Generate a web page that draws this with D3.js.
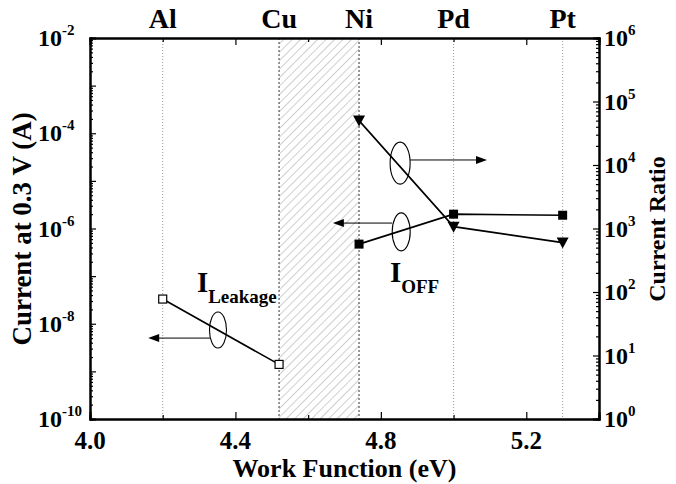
<!DOCTYPE html>
<html>
<head>
<meta charset="utf-8">
<script src="https://cdn.jsdelivr.net/npm/d3@7/dist/d3.min.js"></script>
<style>
body{margin:0;background:#fff;}
text{font-family:"Liberation Serif","Times New Roman",serif;font-weight:bold;fill:#000;}
</style>
</head>
<body>
<div id="chart"></div>
<script>
// metals and their work functions (top labels / dotted guides)
var metals=["Al","Cu","Ni","Pd","Pt"];
var workFn=[4.2,4.52,4.74,5.0,5.3];
// leakage current (left axis, open squares)
var leakX=[4.2,4.52], leakY=[3.3e-8,1.4e-9];
// off current (left axis, filled squares)
var offX=[4.74,5.0,5.3], offY=[4.7e-7,2.0e-6,1.9e-6];
// current ratio (right axis, filled down triangles)
var ratioX=[4.74,5.0,5.3], ratioY=[5.0e4,1070,600];
var xTicks=[4.0,4.4,4.8,5.2];
var leftExp=[-2,-4,-6,-8,-10];
var rightExp=[6,5,4,3,2,1,0];

var W=676,H=484, L=90,R=599,T=38,B=419;
var svg=d3.select("#chart").append("svg").attr("width",W).attr("height",H);

var x=d3.scaleLinear().domain([4.0,5.4]).range([L,R]);
var yL=d3.scaleLog().domain([1e-10,1e-2]).range([B,T]);
var yR=d3.scaleLog().domain([1,1e6]).range([B,T]);

// hatch pattern for the Cu..Ni band
var defs=svg.append("defs");
var pat=defs.append("pattern").attr("id","hatch").attr("patternUnits","userSpaceOnUse")
	.attr("width",6).attr("height",6).attr("patternTransform","rotate(45)");
pat.append("line").attr("x1",0).attr("y1",0).attr("x2",0).attr("y2",6)
	.attr("stroke","#888").attr("stroke-width",0.8);
svg.append("rect").attr("x",x(workFn[1])).attr("y",T)
	.attr("width",x(workFn[2])-x(workFn[1])).attr("height",B-T)
	.attr("fill","url(#hatch)");

// dotted guides
workFn.forEach(function(w,i){
	var edge=(i==1||i==2);
	svg.append("line").attr("x1",x(w)).attr("x2",x(w)).attr("y1",T).attr("y2",B)
		.attr("stroke",edge?"#333":"#999").attr("stroke-width",1)
		.attr("stroke-dasharray",edge?"2,2":"1,2");
	svg.append("text").attr("x",x(w)).attr("y",28).attr("text-anchor","middle")
		.style("font-size","28px").text(metals[i]);
});

// axes: bottom/top
var minorX=d3.range(4.2,5.4,0.4);
var gb=svg.append("g").attr("transform","translate(0,"+B+")");
gb.call(d3.axisBottom(x).tickValues(xTicks).tickSize(-7).tickFormat(""));
gb.append("g").call(d3.axisBottom(x).tickValues(minorX).tickSize(-4).tickFormat(""));
var gt=svg.append("g").attr("transform","translate(0,"+T+")");
gt.call(d3.axisTop(x).tickValues(xTicks).tickSize(-7).tickFormat(""));
gt.append("g").call(d3.axisTop(x).tickValues(minorX).tickSize(-4).tickFormat(""));

function logMinor(lo,hi){
	var v=[];
	for(var e=lo;e<hi;e++) for(var k=2;k<=9;k++) v.push(k*Math.pow(10,e));
	return v;
}
function decades(lo,hi){
	var v=[]; for(var e=lo;e<=hi;e++) v.push(Math.pow(10,e)); return v;
}
var gl=svg.append("g").attr("transform","translate("+L+",0)");
gl.call(d3.axisLeft(yL).tickValues(decades(-10,-2)).tickSize(-6).tickFormat(""));
gl.append("g").call(d3.axisLeft(yL).tickValues(logMinor(-10,-2)).tickSize(-3).tickFormat(""));
var gr=svg.append("g").attr("transform","translate("+R+",0)");
gr.call(d3.axisRight(yR).tickValues(decades(0,6)).tickSize(-6).tickFormat(""));
gr.append("g").call(d3.axisRight(yR).tickValues(logMinor(0,6)).tickSize(-3).tickFormat(""));
svg.selectAll(".domain").attr("stroke","#000").attr("stroke-width",2);
svg.selectAll(".tick line").attr("stroke","#000").attr("stroke-width",1.2);

// tick labels
xTicks.forEach(function(t){
	svg.append("text").attr("x",x(t)).attr("y",449).attr("text-anchor","middle")
		.style("font-size","25px").text(d3.format(".1f")(t));
});
leftExp.forEach(function(e){
	var t=svg.append("text").attr("x",38).attr("y",yL(Math.pow(10,e))+8).style("font-size","24px");
	t.append("tspan").text("10");
	t.append("tspan").attr("dy",-11).style("font-size","15px").text(e);
});
rightExp.forEach(function(e){
	var t=svg.append("text").attr("x",604).attr("y",yR(Math.pow(10,e))+8).style("font-size","24px");
	t.append("tspan").text("10");
	t.append("tspan").attr("dy",-11).style("font-size","15px").text(e);
});

// axis titles
svg.append("text").attr("x",(L+R)/2).attr("y",477).attr("text-anchor","middle")
	.style("font-size","26px").text("Work Function (eV)");
svg.append("text").attr("transform","translate(31,229) rotate(-90)")
	.attr("text-anchor","middle").style("font-size","27px").text("Current at 0.3 V (A)");
svg.append("text").attr("transform","translate(665,229) rotate(-90)")
	.attr("text-anchor","middle").style("font-size","24px").text("Current Ratio");

// series
function series(xs,ys,yScale){
	var pts=xs.map(function(v,i){return [x(v),yScale(ys[i])];});
	svg.append("path").attr("d",d3.line()(pts)).attr("fill","none")
		.attr("stroke","#000").attr("stroke-width",1.6);
	return pts;
}
var pLeak=series(leakX,leakY,yL);
var pOff=series(offX,offY,yL);
var pRatio=series(ratioX,ratioY,yR);
svg.selectAll(".leak").data(pLeak).enter().append("rect")
	.attr("x",function(d){return d[0]-4;}).attr("y",function(d){return d[1]-4;})
	.attr("width",8).attr("height",8).attr("fill","#fff").attr("stroke","#000").attr("stroke-width",1.2);
svg.selectAll(".off").data(pOff).enter().append("rect")
	.attr("x",function(d){return d[0]-4.5;}).attr("y",function(d){return d[1]-4.5;})
	.attr("width",9).attr("height",9).attr("fill","#000");
svg.selectAll(".ratio").data(pRatio).enter().append("path")
	.attr("d",function(d){return "M"+(d[0]-6)+","+(d[1]-5)+"L"+(d[0]+6)+","+(d[1]-5)+"L"+d[0]+","+(d[1]+6)+"Z";})
	.attr("fill","#000");

// ellipses with arrows
function marker(cx,cy,rx,ry,ax,ay,tip){
	svg.append("ellipse").attr("cx",cx).attr("cy",cy).attr("rx",rx).attr("ry",ry)
		.attr("fill","none").attr("stroke","#000").attr("stroke-width",1.1);
	var dir=tip>ax?1:-1;
	svg.append("line").attr("x1",ax).attr("y1",ay).attr("x2",tip-dir*10).attr("y2",ay)
		.attr("stroke","#000").attr("stroke-width",1);
	svg.append("path").attr("d","M"+tip+","+ay+"L"+(tip-dir*11)+","+(ay-4)+"L"+(tip-dir*11)+","+(ay+4)+"Z")
		.attr("fill","#000");
}
marker(x(4.352),yL(7.4e-9),8.5,18,x(4.352)-8,yL(5.0e-9),x(4.16));
marker(x(4.853),yR(1.07e4),10,21,x(4.853)+10,yR(1.2e4),x(5.092));
marker(x(4.856),yL(8.5e-7),9,19,x(4.856)-9,yL(1.3e-6),x(4.668));

// labels
var t1=svg.append("text").attr("x",x(4.294)).attr("y",292).style("font-size","29px");
t1.append("tspan").text("I");
t1.append("tspan").attr("dy",11).style("font-size","19px").text("Leakage");
var t2=svg.append("text").attr("x",x(4.825)).attr("y",282).style("font-size","29px");
t2.append("tspan").text("I");
t2.append("tspan").attr("dy",11).style("font-size","19px").text("OFF");
</script>
</body>
</html>
